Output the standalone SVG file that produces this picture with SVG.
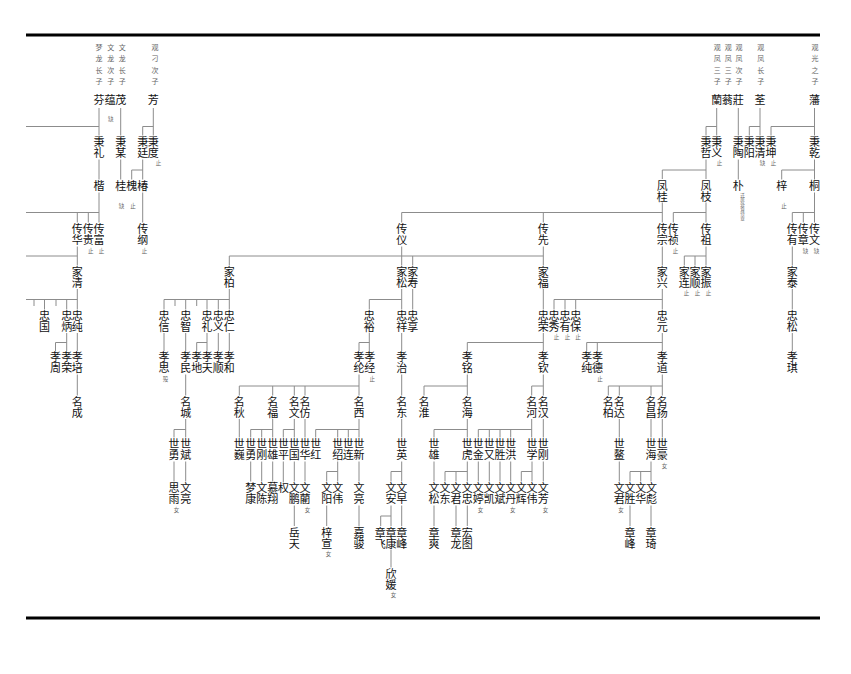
<svg xmlns="http://www.w3.org/2000/svg" width="851" height="674" viewBox="0 0 851 674">
<style>
text{font-family:"Noto Sans CJK SC","Noto Sans CJK TC",sans-serif;text-anchor:middle}
.n{font-size:11px;fill:#111;writing-mode:vertical-rl;text-anchor:start}
.h{font-size:7px;fill:#666}
.a{font-size:5.5px;fill:#666}
.s{font-size:4.6px;fill:#666;writing-mode:vertical-rl;text-anchor:start}
.c path{stroke:#8c8c8c;stroke-width:1;fill:none}
.rule{stroke:#000;stroke-width:3}
</style>
<rect width="851" height="674" fill="#fff"/>
<line class="rule" x1="26" y1="35" x2="820" y2="35"/>
<line class="rule" x1="26" y1="618" x2="820" y2="618"/>

<g id="headers">
<text class="h"><tspan x="99" y="49.7">梦</tspan><tspan x="99" y="61.2">龙</tspan><tspan x="99" y="72.7">长</tspan><tspan x="99" y="84.2">子</tspan></text>
<text class="h"><tspan x="110.7" y="49.7">文</tspan><tspan x="110.7" y="61.2">龙</tspan><tspan x="110.7" y="72.7">次</tspan><tspan x="110.7" y="84.2">子</tspan></text>
<text class="h"><tspan x="122.3" y="49.7">文</tspan><tspan x="122.3" y="61.2">龙</tspan><tspan x="122.3" y="72.7">长</tspan><tspan x="122.3" y="84.2">子</tspan></text>
<text class="h"><tspan x="155" y="49.7">观</tspan><tspan x="155" y="61.2">刁</tspan><tspan x="155" y="72.7">次</tspan><tspan x="155" y="84.2">子</tspan></text>
<text class="h"><tspan x="717.3" y="49.7">观</tspan><tspan x="717.3" y="61.2">凤</tspan><tspan x="717.3" y="72.7">三</tspan><tspan x="717.3" y="84.2">子</tspan></text>
<text class="h"><tspan x="728.3" y="49.7">观</tspan><tspan x="728.3" y="61.2">凤</tspan><tspan x="728.3" y="72.7">三</tspan><tspan x="728.3" y="84.2">子</tspan></text>
<text class="h"><tspan x="739" y="49.7">观</tspan><tspan x="739" y="61.2">凤</tspan><tspan x="739" y="72.7">次</tspan><tspan x="739" y="84.2">子</tspan></text>
<text class="h"><tspan x="760.7" y="49.7">观</tspan><tspan x="760.7" y="61.2">凤</tspan><tspan x="760.7" y="72.7">长</tspan><tspan x="760.7" y="84.2">子</tspan></text>
<text class="h"><tspan x="815" y="49.7">观</tspan><tspan x="815" y="61.2">光</tspan><tspan x="815" y="72.7">之</tspan><tspan x="815" y="84.2">子</tspan></text>
</g>

<g id="connectors" class="c">
<path d="M26 126.5H99 M26 212.5H99 M26 256H77.3 M26 299.5H77.3"/>
<path d="M99 108V135.5 M120.7 108V135.5 M153.3 108V135.5 M142.7 126.5H153.3 M142.7 126.5V135.5 M716.7 108V135.5 M706 126.5H716.7 M706 126.5V135.5 M738.3 108V135.5 M760 108V135.5 M749.3 126.5H760 M749.3 126.5V135.5 M814.5 108V135.5 M771 126.5H814.5 M771 126.5V135.5"/>
<path d="M99 159.5V179.5 M120.7 159.5V179.5 M142.7 159.5V179.5 M131.7 170H142.7 M131.7 170V179.5 M706 159.5V179 M662.3 170H706 M662.3 170V179 M738.3 159.5V179.5 M814.5 159.5V179.5 M781.7 170H814.5 M781.7 170V179.5"/>
<path d="M99 192.5V222.5 M77.3 212.5V222.5 M88.3 212.5V222.5 M142.7 192.5V222.5 M662.3 202.5V222.5 M401.7 212.5H662.3 M401.7 212.5V222.5 M543.3 212.5V222.5 M706 202.5V222.5 M673.3 212.5H706 M673.3 212.5V222.5 M814.5 192.5V222.5 M792.3 212.5H814.5 M792.3 212.5V222.5 M803.3 212.5V222.5"/>
<path d="M77.3 246.5V265.5 M401.7 246.5V265.5 M543.3 246.5V265.5 M229.3 256H543.3 M229.3 256V265.5 M412.7 256V265.5 M662.3 246.5V265.5 M706 246.5V265.5 M684.3 256H706 M684.3 256V265.5 M695 256V265.5 M792.3 246.5V265.5"/>
<path d="M77.3 289V309.5 M34 299.5V306 M44.5 299.5V309.5 M56 299.5V306 M66.7 299.5V309.5 M229.3 289V309.5 M164 299.5H229.3 M164 299.5V309.5 M175 299.5V306 M185.7 299.5V309.5 M196.7 299.5V306 M207 299.5V309.5 M218.3 299.5V309.5 M401.7 289V309.5 M369.3 299.5H401.7 M369.3 299.5V309.5 M412.7 289V309.5 M543.3 289V309.5 M662.3 289V309.5 M554 299.5H662.3 M554 299.5V309.5 M565 299.5V309.5 M575.7 299.5V309.5 M792.3 289V309.5"/>
<path d="M66.7 333V351 M55.5 342.5H66.7 M55.5 342.5V351 M77.3 333V351 M164 333V351 M185.7 333V351 M207 333V351 M196.7 342.5H207 M196.7 342.5V351 M218.3 333V351 M229.3 333V351 M369.3 333V351 M359 342.5H369.3 M359 342.5V351 M401.7 333V351 M543.3 333V351 M467.3 342.5H543.3 M467.3 342.5V351 M662.3 333V351 M586.7 342.5H662.3 M586.7 342.5V351 M597.3 342.5V351 M792.3 333V351"/>
<path d="M77.3 374.5V395.5 M185.7 374.5V395.5 M359 374.5V395.5 M239.3 386H359 M239.3 386V395.5 M272.7 386V395.5 M294.3 386V395.5 M305 386V395.5 M401.7 374.5V395.5 M467.3 374.5V395.5 M424 386H467.3 M424 386V395.5 M543.3 374.5V395.5 M531.7 386H543.3 M531.7 386V395.5 M662.3 374.5V395.5 M608.3 386H662.3 M608.3 386V395.5 M619.3 386V395.5 M651 386V395.5"/>
<path d="M185.7 419V437.5 M174 429.5H185.7 M174 429.5V437.5 M239.3 419V437.5 M272.7 419V437.5 M250.7 429.5H272.7 M250.7 429.5V437.5 M261.7 429.5V437.5 M294.3 419V437.5 M283.3 429.5H294.3 M283.3 429.5V437.5 M305 419V437.5 M359 419V437.5 M315.7 429.5H359 M315.7 429.5V437.5 M337.7 429.5V437.5 M348.3 429.5V437.5 M401.7 419V437.5 M467.3 419V437.5 M434 429.5H467.3 M434 429.5V437.5 M531.7 419V437.5 M478.3 429.5H531.7 M478.3 429.5V437.5 M489.3 429.5V437.5 M500 429.5V437.5 M510.7 429.5V437.5 M543.3 419V437.5 M619.3 419V437.5 M651 419V437.5 M662.3 419V437.5"/>
<path d="M174 461.5V481.5 M185.7 461.5V481.5 M250.7 461.5V481.5 M261.7 461.5V481.5 M272.7 461.5V481.5 M283.3 461.5V482.5 M294.3 461.5V481.5 M305 461.5V481.5 M337.7 461.5V481.5 M326.7 471.5H337.7 M326.7 471.5V481.5 M359 461.5V481.5 M401.7 461.5V481.5 M391 471.5H401.7 M391 471.5V481.5 M434 461.5V481.5 M467.3 461.5V481.5 M445 471.5H467.3 M445 471.5V481.5 M456 471.5V481.5 M478.3 461.5V481.5 M489.3 461.5V481.5 M500 461.5V481.5 M510.7 461.5V481.5 M532 461.5V481.5 M521.3 471.5H532 M521.3 471.5V481.5 M543.3 461.5V481.5 M619.3 461.5V481.5 M651 461.5V481.5 M630 471.5H651 M630 471.5V481.5 M640.7 471.5V481.5"/>
<path d="M294.3 505.5V526 M326.7 505.5V526 M359 505.5V526 M391 505.5V526 M380.7 516H391 M380.7 516V526 M401.7 505.5V526 M434 505.5V526 M456 505.5V526 M467.3 505.5V526 M630 505.5V526 M651 505.5V526 M391 549.5V567.5"/>
</g>

<!-- generation 1 -->
<g id="g1-99"><text class="n" x="99" y="94.5">芬</text></g>
<g id="g1-110"><text class="n" x="110" y="94.5">蕴</text><text class="a" x="110.7" y="121.3">缺</text></g>
<g id="g1-121"><text class="n" x="120.7" y="94.5">茂</text></g>
<g id="g1-153"><text class="n" x="153.3" y="94.5">芳</text></g>
<g id="g1-717"><text class="n" x="716.7" y="94.5">蘭</text></g>
<g id="g1-727"><text class="n" x="727.3" y="94.5">蓊</text></g>
<g id="g1-738"><text class="n" x="738.3" y="94.5">莊</text></g>
<g id="g1-760"><text class="n" x="760" y="94.5">荃</text></g>
<g id="g1-815"><text class="n" x="814.5" y="94.5">藩</text></g>

<!-- generation 2 -->
<g id="g2-99"><text class="n" x="99" y="136.2">秉礼</text></g>
<g id="g2-121"><text class="n" x="120.7" y="136.2">秉某</text></g>
<g id="g2-143"><text class="n" x="142.7" y="136.2">秉廷</text></g>
<g id="g2-153"><text class="n" x="153.3" y="136.2">秉度</text><text class="a" x="158.5" y="165">止</text></g>
<g id="g2-706"><text class="n" x="706" y="136.2">秉哲</text></g>
<g id="g2-717"><text class="n" x="716.7" y="136.2">秉义</text><text class="a" x="719.5" y="165">止</text></g>
<g id="g2-738"><text class="n" x="738.3" y="136.2">秉陶</text></g>
<g id="g2-749"><text class="n" x="749.3" y="136.2">秉阳</text></g>
<g id="g2-760"><text class="n" x="760" y="136.2">秉清</text><text class="a" x="762.5" y="165">缺</text></g>
<g id="g2-771"><text class="n" x="771" y="136.2">秉坤</text><text class="a" x="773.5" y="165">止</text></g>
<g id="g2-815"><text class="n" x="814.5" y="136.2">秉乾</text></g>

<!-- generation 3 -->
<g id="g3-99"><text class="n" x="99" y="180.5">楷</text></g>
<g id="g3-121"><text class="n" x="120.7" y="180.5">桂</text><text class="a" x="121.5" y="208">缺</text></g>
<g id="g3-132"><text class="n" x="131.7" y="180.5">槐</text><text class="a" x="133" y="208">止</text></g>
<g id="g3-143"><text class="n" x="142.7" y="180.5">椿</text></g>
<g id="g3-662"><text class="n" x="662.3" y="180">凤桂</text></g>
<g id="g3-706"><text class="n" x="706" y="180">凤枝</text></g>
<g id="g3-738"><text class="n" x="738.3" y="180.5">朴</text><text class="s" x="742.5" y="192.5">迁居外省待查</text></g>
<g id="g3-782"><text class="n" x="781.7" y="180.5">梓</text><text class="a" x="784" y="208">止</text></g>
<g id="g3-815"><text class="n" x="814.5" y="180.5">桐</text></g>

<!-- generation 4 -->
<g id="g4-77"><text class="n" x="77.3" y="223.8">传华</text></g>
<g id="g4-88"><text class="n" x="88.3" y="223.8">传贵</text><text class="a" x="90.8" y="252.5">止</text></g>
<g id="g4-99"><text class="n" x="99" y="223.8">传富</text><text class="a" x="101.5" y="252.5">止</text></g>
<g id="g4-143"><text class="n" x="142.7" y="223.8">传纲</text><text class="a" x="144.5" y="253">止</text></g>
<g id="g4-402"><text class="n" x="401.7" y="223.8">传仪</text></g>
<g id="g4-543"><text class="n" x="543.3" y="223.8">传先</text></g>
<g id="g4-662"><text class="n" x="662.3" y="223.8">传宗</text></g>
<g id="g4-673"><text class="n" x="673.3" y="223.8">传祯</text><text class="a" x="675.5" y="252.5">止</text></g>
<g id="g4-706"><text class="n" x="706" y="223.8">传祖</text></g>
<g id="g4-792"><text class="n" x="792.3" y="223.8">传有</text></g>
<g id="g4-803"><text class="n" x="803.3" y="223.8">传章</text><text class="a" x="805.5" y="252.5">缺</text></g>
<g id="g4-815"><text class="n" x="814.5" y="223.8">传文</text><text class="a" x="816.5" y="252.5">缺</text></g>

<!-- generation 5 -->
<g id="g5-77"><text class="n" x="77.3" y="266.2">家清</text></g>
<g id="g5-229"><text class="n" x="229.3" y="266.2">家柏</text></g>
<g id="g5-402"><text class="n" x="401.7" y="266.2">家松</text></g>
<g id="g5-413"><text class="n" x="412.7" y="266.2">家寿</text></g>
<g id="g5-543"><text class="n" x="543.3" y="266.2">家福</text></g>
<g id="g5-662"><text class="n" x="662.3" y="266.2">家兴</text></g>
<g id="g5-684"><text class="n" x="684.3" y="266.2">家连</text><text class="a" x="686.5" y="295">止</text></g>
<g id="g5-695"><text class="n" x="695" y="266.2">家顺</text><text class="a" x="697.5" y="295">止</text></g>
<g id="g5-706"><text class="n" x="706" y="266.2">家振</text><text class="a" x="708.5" y="295">止</text></g>
<g id="g5-792"><text class="n" x="792.3" y="266.2">家泰</text></g>

<!-- generation 6 -->
<g id="g6-45"><text class="n" x="44.5" y="310.5">忠国</text></g>
<g id="g6-67"><text class="n" x="66.7" y="310.5">忠炳</text></g>
<g id="g6-77"><text class="n" x="77.3" y="310.5">忠纯</text></g>
<g id="g6-164"><text class="n" x="164" y="310.5">忠信</text></g>
<g id="g6-186"><text class="n" x="185.7" y="310.5">忠智</text></g>
<g id="g6-207"><text class="n" x="207" y="310.5">忠礼</text></g>
<g id="g6-218"><text class="n" x="218.3" y="310.5">忠义</text></g>
<g id="g6-229"><text class="n" x="229.3" y="310.5">忠仁</text></g>
<g id="g6-369"><text class="n" x="369.3" y="310.5">忠裕</text></g>
<g id="g6-402"><text class="n" x="401.7" y="310.5">忠祥</text></g>
<g id="g6-413"><text class="n" x="412.7" y="310.5">忠享</text></g>
<g id="g6-543"><text class="n" x="543.3" y="310.5">忠荣</text></g>
<g id="g6-554"><text class="n" x="554" y="310.5">忠秀</text><text class="a" x="556.5" y="339">止</text></g>
<g id="g6-565"><text class="n" x="565" y="310.5">忠有</text><text class="a" x="567.5" y="339">止</text></g>
<g id="g6-576"><text class="n" x="575.7" y="310.5">忠保</text><text class="a" x="578" y="339">止</text></g>
<g id="g6-662"><text class="n" x="662.3" y="310.5">忠元</text></g>
<g id="g6-792"><text class="n" x="792.3" y="310.5">忠松</text></g>

<!-- generation 7 -->
<g id="g7-56"><text class="n" x="55.5" y="351.8">孝周</text></g>
<g id="g7-67"><text class="n" x="66.7" y="351.8">孝荣</text></g>
<g id="g7-77"><text class="n" x="77.3" y="351.8">孝培</text></g>
<g id="g7-164"><text class="n" x="164" y="351.8">孝思</text><text class="a" x="165.5" y="380.5">殁</text></g>
<g id="g7-186"><text class="n" x="185.7" y="351.8">孝民</text></g>
<g id="g7-197"><text class="n" x="196.7" y="351.8">孝地</text></g>
<g id="g7-207"><text class="n" x="207.3" y="351.8">孝天</text></g>
<g id="g7-218"><text class="n" x="218.3" y="351.8">孝顺</text></g>
<g id="g7-229"><text class="n" x="229.3" y="351.8">孝和</text></g>
<g id="g7-359"><text class="n" x="359" y="351.8">孝纶</text></g>
<g id="g7-369"><text class="n" x="369.7" y="351.8">孝经</text><text class="a" x="372.3" y="380.5">止</text></g>
<g id="g7-402"><text class="n" x="401.7" y="351.8">孝治</text></g>
<g id="g7-467"><text class="n" x="467.3" y="351.8">孝铭</text></g>
<g id="g7-543"><text class="n" x="543.3" y="351.8">孝钦</text></g>
<g id="g7-587"><text class="n" x="586.7" y="351.8">孝纯</text></g>
<g id="g7-597"><text class="n" x="597.4" y="351.8">孝德</text><text class="a" x="600" y="380.5">止</text></g>
<g id="g7-662"><text class="n" x="662.3" y="351.8">孝道</text></g>
<g id="g7-792"><text class="n" x="792.3" y="351.8">孝琪</text></g>

<!-- generation 8 -->
<g id="g8-77"><text class="n" x="77.3" y="396.2">名成</text></g>
<g id="g8-186"><text class="n" x="185.7" y="396.2">名城</text></g>
<g id="g8-239"><text class="n" x="239.3" y="396.2">名秋</text></g>
<g id="g8-273"><text class="n" x="272.7" y="396.2">名福</text></g>
<g id="g8-294"><text class="n" x="294.3" y="396.2">名文</text></g>
<g id="g8-305"><text class="n" x="305" y="396.2">名仿</text></g>
<g id="g8-359"><text class="n" x="359" y="396.2">名西</text></g>
<g id="g8-402"><text class="n" x="401.7" y="396.2">名东</text></g>
<g id="g8-424"><text class="n" x="424" y="396.2">名淮</text></g>
<g id="g8-467"><text class="n" x="467.3" y="396.2">名海</text></g>
<g id="g8-532"><text class="n" x="531.7" y="396.2">名河</text></g>
<g id="g8-543"><text class="n" x="543.3" y="396.2">名汉</text></g>
<g id="g8-608"><text class="n" x="608.3" y="396.2">名柏</text></g>
<g id="g8-619"><text class="n" x="619.3" y="396.2">名达</text></g>
<g id="g8-651"><text class="n" x="651" y="396.2">名昌</text></g>
<g id="g8-662"><text class="n" x="662.3" y="396.2">名扬</text></g>

<!-- generation 9 -->
<g id="g9-174"><text class="n" x="174" y="438.5">世勇</text></g>
<g id="g9-186"><text class="n" x="185.7" y="438.5">世斌</text></g>
<g id="g9-239"><text class="n" x="239.3" y="438.5">世巍</text></g>
<g id="g9-251"><text class="n" x="250.7" y="438.5">世勇</text></g>
<g id="g9-262"><text class="n" x="261.7" y="438.5">世刚</text></g>
<g id="g9-273"><text class="n" x="272.7" y="438.5">世雄</text></g>
<g id="g9-283"><text class="n" x="283.5" y="438.5">世平</text></g>
<g id="g9-294"><text class="n" x="294.3" y="438.5">世国</text></g>
<g id="g9-305"><text class="n" x="305" y="438.5">世华</text></g>
<g id="g9-316"><text class="n" x="315.7" y="438.5">世红</text></g>
<g id="g9-338"><text class="n" x="337.7" y="438.5">世绍</text></g>
<g id="g9-348"><text class="n" x="348.3" y="438.5">世连</text></g>
<g id="g9-359"><text class="n" x="359" y="438.5">世新</text></g>
<g id="g9-402"><text class="n" x="401.7" y="438.5">世英</text></g>
<g id="g9-434"><text class="n" x="434" y="438.5">世雄</text></g>
<g id="g9-467"><text class="n" x="467.3" y="438.5">世虎</text></g>
<g id="g9-478"><text class="n" x="478.3" y="438.5">世金</text></g>
<g id="g9-489"><text class="n" x="489.3" y="438.5">世又</text></g>
<g id="g9-500"><text class="n" x="500" y="438.5">世胜</text></g>
<g id="g9-511"><text class="n" x="510.7" y="438.5">世洪</text></g>
<g id="g9-532"><text class="n" x="532" y="438.5">世学</text></g>
<g id="g9-543"><text class="n" x="543.3" y="438.5">世刚</text></g>
<g id="g9-619"><text class="n" x="619.3" y="438.5">世鳌</text></g>
<g id="g9-651"><text class="n" x="651" y="438.5">世海</text></g>
<g id="g9-662"><text class="n" x="662.3" y="438.5">世豪</text><text class="a" x="664.5" y="467.5">女</text></g>

<!-- generation 10 -->
<g id="g10-174"><text class="n" x="174" y="482.8">思雨</text><text class="a" x="176.5" y="511.5">女</text></g>
<g id="g10-186"><text class="n" x="185.7" y="482.8">文亮</text></g>
<g id="g10-251"><text class="n" x="250.7" y="482.8">梦康</text></g>
<g id="g10-262"><text class="n" x="261.7" y="482.8">文陈</text></g>
<g id="g10-273"><text class="n" x="272.7" y="482.8">慕翔</text></g>
<g id="g10-283"><text class="n" x="283.5" y="482.8">权</text></g>
<g id="g10-294"><text class="n" x="294.3" y="482.8">文鹏</text></g>
<g id="g10-305"><text class="n" x="305" y="482.8">文藺</text><text class="a" x="307.5" y="511.5">女</text></g>
<g id="g10-327"><text class="n" x="326.7" y="482.8">文阳</text></g>
<g id="g10-338"><text class="n" x="337.7" y="482.8">文伟</text></g>
<g id="g10-359"><text class="n" x="359" y="482.8">文亮</text></g>
<g id="g10-391"><text class="n" x="391" y="482.8">文安</text></g>
<g id="g10-402"><text class="n" x="401.7" y="482.8">文早</text></g>
<g id="g10-434"><text class="n" x="434" y="482.8">文松</text></g>
<g id="g10-445"><text class="n" x="445" y="482.8">文东</text></g>
<g id="g10-456"><text class="n" x="456" y="482.8">文君</text></g>
<g id="g10-467"><text class="n" x="467.3" y="482.8">文忠</text></g>
<g id="g10-478"><text class="n" x="478.3" y="482.8">文婷</text><text class="a" x="480.5" y="511.5">女</text></g>
<g id="g10-489"><text class="n" x="489.3" y="482.8">文凯</text></g>
<g id="g10-500"><text class="n" x="500" y="482.8">文斌</text></g>
<g id="g10-511"><text class="n" x="510.7" y="482.8">文丹</text><text class="a" x="512.7" y="511.5">女</text></g>
<g id="g10-521"><text class="n" x="521.3" y="482.8">文辉</text></g>
<g id="g10-532"><text class="n" x="532" y="482.8">文伟</text></g>
<g id="g10-543"><text class="n" x="543.3" y="482.8">文芳</text><text class="a" x="545.5" y="511.5">女</text></g>
<g id="g10-619"><text class="n" x="619.3" y="482.8">文君</text><text class="a" x="621" y="511.5">女</text></g>
<g id="g10-630"><text class="n" x="630" y="482.8">文胜</text></g>
<g id="g10-641"><text class="n" x="640.7" y="482.8">文华</text></g>
<g id="g10-651"><text class="n" x="651.4" y="482.8">文彪</text></g>

<!-- generation 11 -->
<g id="g11-294"><text class="n" x="294.3" y="527">岳天</text></g>
<g id="g11-327"><text class="n" x="326.7" y="527">梓宣</text><text class="a" x="328.5" y="555.5">女</text></g>
<g id="g11-359"><text class="n" x="359" y="527">嘉骏</text></g>
<g id="g11-381"><text class="n" x="380.3" y="527">章飞</text></g>
<g id="g11-391"><text class="n" x="391" y="527">章康</text></g>
<g id="g11-402"><text class="n" x="401.7" y="527">章峰</text></g>
<g id="g11-434"><text class="n" x="434" y="527">章爽</text></g>
<g id="g11-456"><text class="n" x="456" y="527">章龙</text></g>
<g id="g11-467"><text class="n" x="467.3" y="527">宏图</text></g>
<g id="g11-630"><text class="n" x="630" y="527">章峰</text></g>
<g id="g11-651"><text class="n" x="651" y="527">章琦</text></g>

<!-- generation 12 -->
<g id="g12-391"><text class="n" x="391" y="568.5">欣媛</text><text class="a" x="393.5" y="597">女</text></g>
</svg>
